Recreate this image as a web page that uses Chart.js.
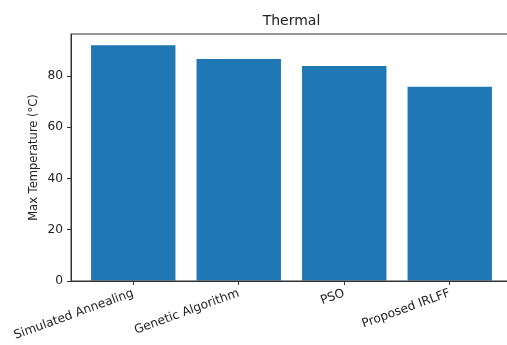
<!DOCTYPE html>
<html>
<head>
<meta charset="utf-8">
<script src="https://cdn.jsdelivr.net/npm/chart.js@4/dist/chart.umd.min.js"></script>
<style>
  html, body { margin: 0; padding: 0; background: #fff; overflow: hidden; }
  #wrap { width: 520px; height: 345px; }
</style>
</head>
<body>
<div id="wrap"><canvas id="chart" width="520" height="345"></canvas></div>
<script>
// chart data
const chartTitle = 'Thermal';
const methods = ['Simulated Annealing', 'Genetic Algorithm', 'PSO', 'Proposed IRLFF'];
const maxTemps = [92, 86.6, 83.9, 75.8];
const yTicks = [0, 20, 40, 60, 80];
const yLabel = 'Max Temperature (°C)';

const font = "'DejaVu Sans', sans-serif";

// title over the middle of the plot area, plus the axes frame
const titlePlugin = {
  id: 'plotTitle',
  afterDraw(chart) {
    const { ctx, chartArea } = chart;
    ctx.save();
    ctx.strokeStyle = '#333';
    ctx.lineWidth = 1;
    ctx.strokeRect(chartArea.left, chartArea.top, chartArea.right - chartArea.left, chartArea.bottom - chartArea.top);
    ctx.font = '14px ' + font;
    ctx.fillStyle = '#222';
    ctx.textAlign = 'center';
    ctx.textBaseline = 'middle';
    ctx.fillText(chartTitle, (chartArea.left + chartArea.right) / 2, 21);
    ctx.restore();
  }
};

new Chart(document.getElementById('chart'), {
  type: 'bar',
  data: {
    datasets: [{
      data: maxTemps.map((v, i) => ({ x: i, y: v })),
      backgroundColor: '#1f77b4',
      barPercentage: 0.8,
      categoryPercentage: 1.0
    }]
  },
  options: {
    responsive: false,
    animation: false,
    layout: { padding: { top: 34, right: 8, left: 0, bottom: 0 } },
    plugins: { legend: { display: false }, tooltip: { enabled: false } },
    scales: {
      x: {
        type: 'linear',
        offset: false,
        min: -0.59,
        max: 3.59,
        afterBuildTicks: s => { s.ticks = methods.map((m, i) => ({ value: i })); },
        afterFit: s => { s.height = 64; },
        ticks: {
          autoSkip: false,
          minRotation: 20,
          maxRotation: 20,
          padding: 1,
          color: '#222',
          font: { family: font, size: 12.2 },
          callback: v => methods[v]
        },
        grid: { offset: false, drawOnChartArea: false, drawTicks: true, tickLength: 4, color: '#333' },
        border: { display: true, color: '#333' }
      },
      y: {
        min: 0,
        max: 96.4,
        afterBuildTicks: s => { s.ticks = yTicks.map(v => ({ value: v })); },
        afterFit: s => { s.width = 71; },
        ticks: {
          padding: 4,
          color: '#222',
          font: { family: font, size: 12.2 }
        },
        grid: { drawOnChartArea: false, drawTicks: true, tickLength: 4, color: '#333' },
        border: { display: true, color: '#333' },
        title: {
          display: true,
          text: yLabel,
          color: '#222',
          font: { family: font, size: 11.5 },
          padding: { top: 27, bottom: 0 }
        }
      }
    }
  },
  plugins: [titlePlugin]
});
</script>
</body>
</html>
